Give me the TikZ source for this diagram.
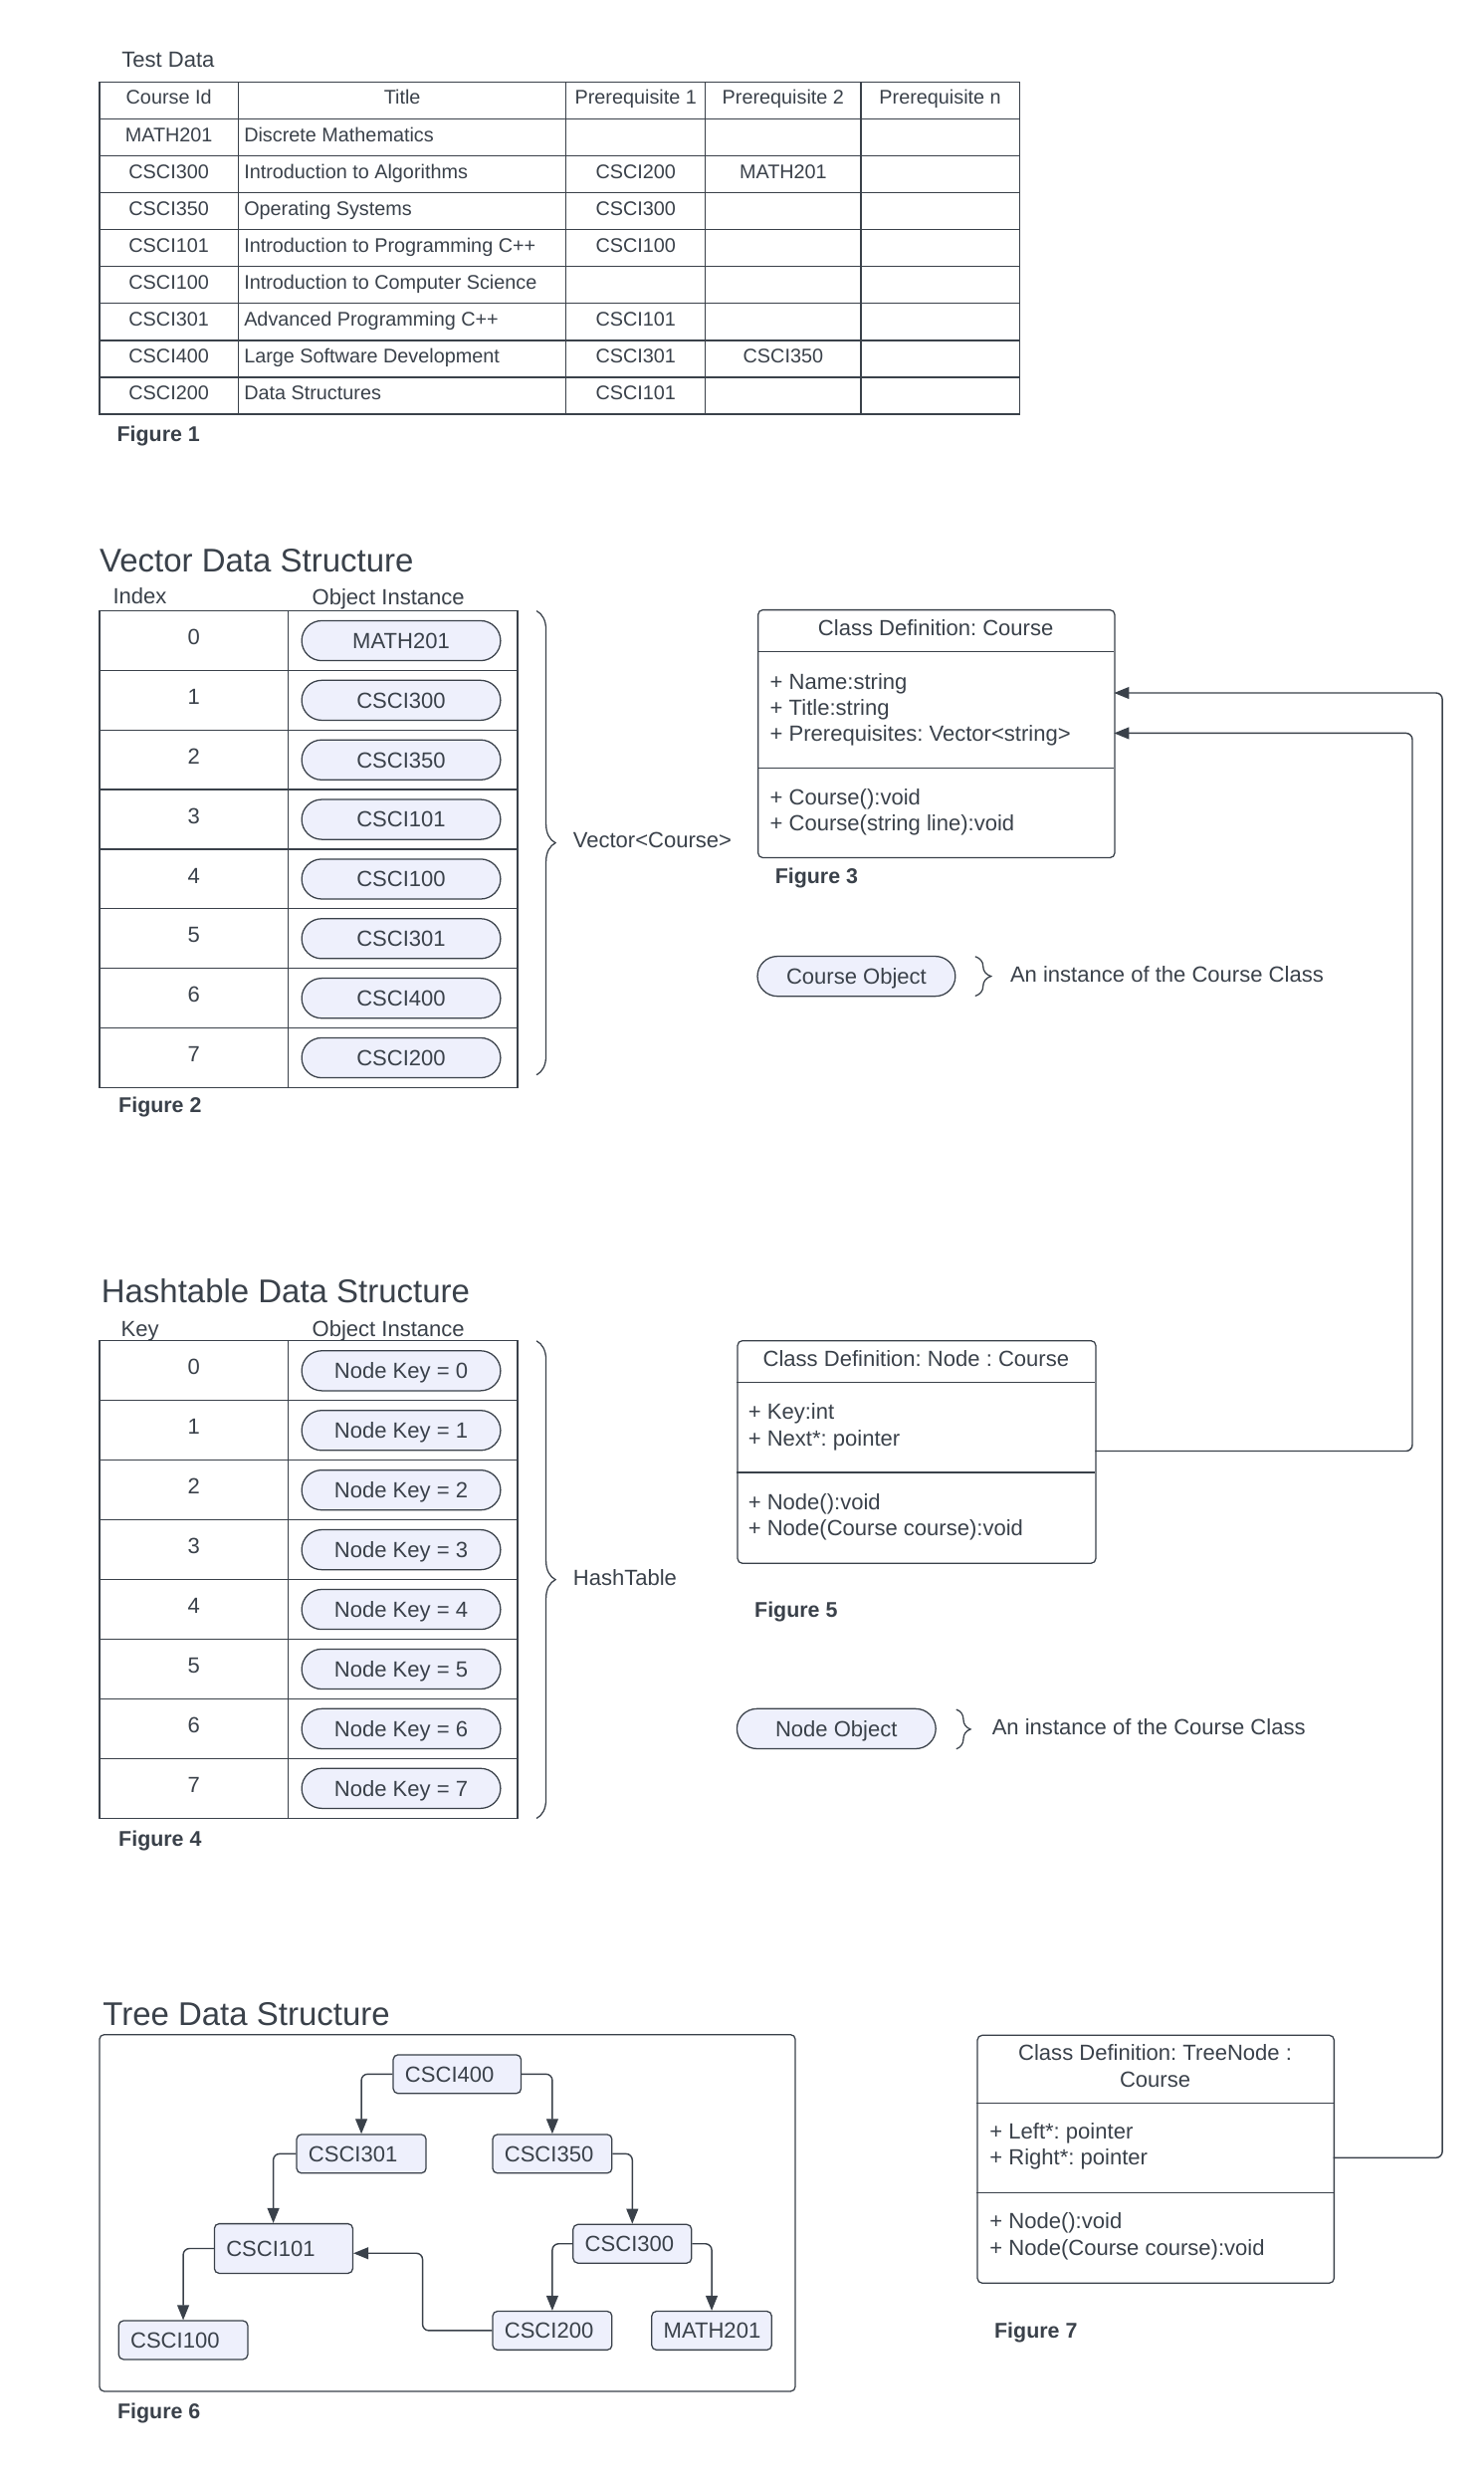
\documentclass[tikz,border=0pt]{standalone}
\usepackage{fontspec}
\setmainfont{Liberation Sans}
\usetikzlibrary{arrows.meta,shapes.misc,decorations.pathreplacing}
\definecolor{ink}{HTML}{3A414A}
\definecolor{pill}{HTML}{EEF0FC}
\newcommand{\bodysize}{\fontsize{13.9pt}{16pt}\selectfont}
\newcommand{\tabsize}{\fontsize{12.5pt}{15pt}\selectfont}
\newcommand{\headsize}{\fontsize{20.8pt}{24pt}\selectfont}

\begin{document}
\frenchspacing
\begin{tikzpicture}[x=1pt,y=-1pt,
  txt/.style={font=\bodysize, text=ink, inner sep=0pt, text height=9.95pt, text depth=0pt},
  tabtxt/.style={font=\tabsize, text=ink, inner sep=0pt, text height=9pt, text depth=0pt},
  heading/.style={font=\headsize, text=ink, inner sep=0pt, text height=14.9pt, text depth=0pt, anchor=west},
  figlabel/.style={txt, font=\fontsize{13.5pt}{16pt}\selectfont\bfseries, anchor=west},
  grid/.style={draw=ink, line width=0.8pt},
  objpill/.style={rounded rectangle, draw=ink, fill=pill, line width=0.8pt, txt, minimum width=126pt, minimum height=25.3pt},
  classbox/.style={draw=ink, line width=0.8pt, rounded corners=3pt, anchor=north west},
  tnode/.style={draw=ink, fill=pill, line width=0.8pt, rounded corners=3pt, txt, inner xsep=7.5pt, align=left, minimum height=24.5pt, text width=#1},
  link/.style={draw=ink, line width=0.9pt, rounded corners=4pt, -{Triangle[length=9.5pt,width=7.5pt]}},
  bracer/.style={draw=ink, line width=0.8pt, decorate, decoration={brace, amplitude=#1}}
]
\fill[white] (0,0) rectangle (940,1568);
\useasboundingbox (0,0) rectangle (940,1568);

% figure 1
\node[txt, anchor=west] (testlbl) at (77,37.4) {Test Data};
\draw[grid] (63,52) rectangle (646,262.4);
\foreach \cx in {151,358.7,447,545.6} \draw[grid] (\cx,52) -- (\cx,262.4);
\foreach \r in {1,...,8} \draw[grid] (63,52+23.38*\r) -- (646,52+23.38*\r);
\node[tabtxt] (hId) at (107,61.7) {Course Id};
\node[tabtxt] (hTitle) at (254.9,61.7) {Title};
\node[tabtxt] (hPa) at (402.9,61.7) {Prerequisite 1};
\node[tabtxt] (hPb) at (496.3,61.7) {Prerequisite 2};
\node[tabtxt] (hPn) at (595.8,61.7) {Prerequisite n};
\foreach \id/\ttl/\pa/\pb [count=\r] in {
  MATH201/Discrete Mathematics/{}/{},
  CSCI300/Introduction to Algorithms/CSCI200/MATH201,
  CSCI350/Operating Systems/CSCI300/{},
  CSCI101/Introduction to Programming C++/CSCI100/{},
  CSCI100/Introduction to Computer Science/{}/{},
  CSCI301/Advanced Programming C++/CSCI101/{},
  CSCI400/Large Software Development/CSCI301/CSCI350,
  CSCI200/Data Structures/CSCI101/{}}{
  \node[tabtxt] (id\r) at (107,52+23.38*\r+9.7) {\id};
  \node[tabtxt, anchor=west] (title\r) at (154.5,52+23.38*\r+9.7) {\ttl};
  \node[tabtxt] (pa\r) at (402.9,52+23.38*\r+9.7) {\pa};
  \node[tabtxt] (pb\r) at (496.3,52+23.38*\r+9.7) {\pb};
}
\node[figlabel] (fig1) at (74,274.7) {Figure 1};

% figure 2
\node[heading] (vecttl) at (63,355) {Vector Data Structure};
\node[txt, anchor=west] (vecidx) at (71.4,377.7) {Index};
\node[txt, anchor=west] (vecobj) at (197.6,378) {Object Instance};
\draw[grid] (63,387) rectangle (328,689);
\draw[grid] (182.7,387) -- (182.7,689);
\foreach \r in {1,...,7} \draw[grid] (63,387+37.75*\r) -- (328,387+37.75*\r);
\foreach \name [count=\i from 0] in {MATH201,CSCI300,CSCI350,CSCI101,CSCI100,CSCI301,CSCI400,CSCI200}{
  \node[txt] (vidx\i) at (122.9,387+37.75*\i+16.5) {\i};
  \node[objpill] (vobj\i) at (254.2,387+37.75*\i+18.9) {\name};
}
\draw[bracer=12pt] (340,387) -- (340,681);
\node[txt, anchor=west] (veclbl) at (363,532) {Vector<Course>};
\node[figlabel] (fig2) at (75,700) {Figure 2};

% figure 3
\node[classbox, minimum width=226pt, minimum height=157pt] (course) at (480,386) {};
\draw[grid] (480,412.7) -- (706,412.7);
\draw[grid] (480,486.7) -- (706,486.7);
\node[txt] (courseTtl) at (593,397.7) {Class Definition: Course};
\foreach \ln [count=\k] in {+ Name:string, + Title:string, + Prerequisites: Vector<string>}
  \node[txt, anchor=west] (cAttr\k) at (487.8,431.5+16.65*\k-16.65) {\ln};
\node[txt, anchor=west] (cOpA) at (487.8,504.8) {+ Course():void};
\node[txt, anchor=west] (cOpB) at (487.8,521.5) {+ Course(string line):void};
\node[figlabel] (fig3) at (491,555) {Figure 3};
\node[objpill, minimum width=125.4pt] (courseObj) at (542.7,618.5) {Course Object};
\draw[bracer=10pt] (618,606) -- (618,631);
\node[txt, anchor=west] (courseObjLbl) at (640,617.5) {An instance of the Course Class};

% figure 4
\node[heading] (hashttl) at (64,818) {Hashtable Data Structure};
\node[txt, anchor=west] (hashkey) at (76.5,841.9) {Key};
\node[txt, anchor=west] (hashobj) at (197.6,841.5) {Object Instance};
\draw[grid] (63,849.5) rectangle (328,1152);
\draw[grid] (182.7,849.5) -- (182.7,1152);
\foreach \r in {1,...,7} \draw[grid] (63,849.5+37.8*\r) -- (328,849.5+37.8*\r);
\foreach \i in {0,...,7}{
  \node[txt] (hidx\i) at (122.9,849.5+37.8*\i+16.5) {\i};
  \node[objpill] (hobj\i) at (254.2,849.5+37.8*\i+18.9) {Node Key = \i};
}
\draw[bracer=12pt] (340,849.5) -- (340,1152);
\node[txt, anchor=west] (hashlbl) at (363,999.4) {HashTable};
\node[figlabel] (fig4) at (75,1164.8) {Figure 4};

% figure 5
\node[classbox, minimum width=227pt, minimum height=141pt] (nodecls) at (467,849) {};
\draw[grid] (467,875.6) -- (694,875.6);
\draw[grid] (467,932.9) -- (694,932.9);
\node[txt] (nodeTtl) at (580.5,860.5) {Class Definition: Node : Course};
\node[txt, anchor=west] (nAttrA) at (474,894.3) {+ Key:int};
\node[txt, anchor=west] (nAttrB) at (474,911) {+ Next*: pointer};
\node[txt, anchor=west] (nOpA) at (474,951.4) {+ Node():void};
\node[txt, anchor=west] (nOpB) at (474,968.2) {+ Node(Course course):void};
\node[figlabel] (fig5) at (478,1019.4) {Figure 5};
\node[objpill] (nodeObj) at (530,1095.2) {Node Object};
\draw[bracer=9pt] (606,1083) -- (606,1108);
\node[txt, anchor=west] (nodeObjLbl) at (628.5,1094) {An instance of the Course Class};

% figure 6
\node[heading] (treettl) at (65,1276) {Tree Data Structure};
\draw[grid, rounded corners=3pt] (63,1289) rectangle (504,1515);
\node[tnode=66pt] (t400) at (289.7,1314) {CSCI400};
\node[tnode=67pt] (t301) at (229,1364.5) {CSCI301};
\node[tnode=60.6pt] (t350) at (350,1364.5) {CSCI350};
\node[tnode=72.7pt, minimum height=31.4pt] (t101) at (179.7,1424.5) {CSCI101};
\node[tnode=60pt] (t300) at (400.7,1421.5) {CSCI300};
\node[tnode=66.8pt] (t100) at (116.1,1482.5) {CSCI100};
\node[tnode=60.6pt] (t200) at (350,1476.5) {CSCI200};
\node[tnode=61pt] (t201) at (451,1476.5) {MATH201};
\draw[link] (t400.west) -| (t301.north);
\draw[link] (t400.east) -| (t350.north);
\draw[link] (t301.west) -| ([xshift=-6.5pt]t101.north);
\draw[link] (t350.east) -| (t300.north);
\draw[link] (t101.west) -| (t100.north);
\draw[link] (t300.west) -| (t200.north);
\draw[link] (t300.east) -| (t201.north);
\draw[link] (t200.west) -- ++(-44,0) |- ([yshift=-3pt]t101.east);
\node[figlabel] (fig6) at (74.3,1527.5) {Figure 6};

% figure 7
\node[classbox, minimum width=226pt, minimum height=157pt] (treecls) at (619,1289) {};
\draw[grid] (619,1332.2) -- (845,1332.2);
\draw[grid] (619,1389.2) -- (845,1389.2);
\node[txt] (treeTtlA) at (732,1300.5) {Class Definition: TreeNode :};
\node[txt] (treeTtlB) at (732,1317.2) {Course};
\node[txt, anchor=west] (tAttrA) at (627,1350) {+ Left*: pointer};
\node[txt, anchor=west] (tAttrB) at (627,1366.3) {+ Right*: pointer};
\node[txt, anchor=west] (tOpA) at (627,1407) {+ Node():void};
\node[txt, anchor=west] (tOpB) at (627,1423.7) {+ Node(Course course):void};
\node[figlabel] (fig7) at (630,1476) {Figure 7};

% links to the course class
\coordinate (courseInA) at (706,439);
\coordinate (courseInB) at (706,464.5);
\coordinate (nodeOut) at (694,919.3);
\coordinate (treeOut) at (845,1367);
\draw[link] (treeOut) -- ++(69,0) |- (courseInA);
\draw[link] (nodeOut) -- ++(201,0) |- (courseInB);
\end{tikzpicture}
\end{document}
